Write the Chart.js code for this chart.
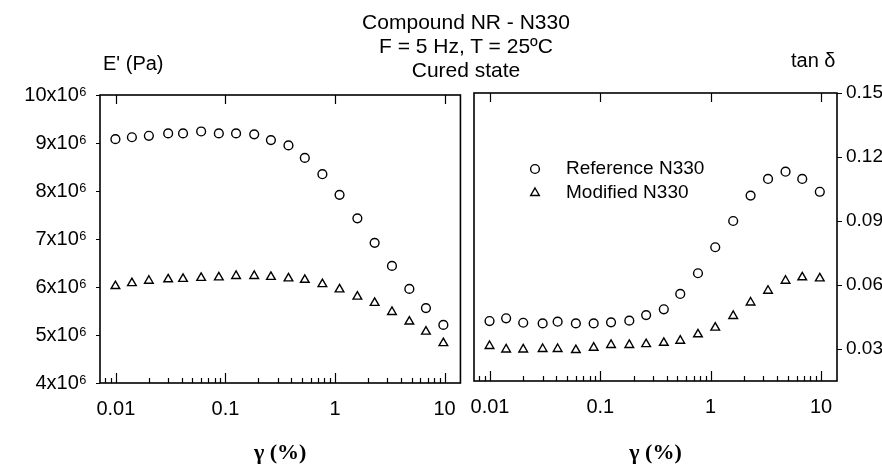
<!DOCTYPE html>
<html lang="en">
<head>
  <meta charset="UTF-8" />
  <title>Compound NR - N330</title>
  <script src="https://cdn.jsdelivr.net/npm/chart.js"></script>
  <style>
    * {
      margin: 0;
      padding: 0;
      box-sizing: border-box;
    }

    body {
      width: 882px;
      height: 467px;
      background-color: #fff;
      color: #000;
      font-family: 'Liberation Sans', Arial, sans-serif;
      position: relative;
      overflow: hidden;
    }

    .panel {
      position: absolute;
      top: 0;
      height: 467px;
    }

    #leftPanel { left: 0; width: 470px; }
    #rightPanel { left: 430px; width: 452px; }

    .txt {
      position: absolute;
      font-size: 20px;
      line-height: 24px;
      white-space: nowrap;
    }

    #title {
      left: 0;
      width: 932px;
      top: 10px;
      text-align: center;
      font-size: 21px;
    }

    #yLeftLabel { left: 103px; top: 51px; }
    #yRightLabel { left: 791px; top: 48px; }
  </style>
</head>
<body>

  <div class="panel" id="leftPanel"><canvas id="modulusChart" width="470" height="467"></canvas></div>
  <div class="panel" id="rightPanel"><canvas id="tanChart" width="452" height="467"></canvas></div>

  <div class="txt" id="title">Compound NR - N330<br>F = 5 Hz, T = 25ºC<br>Cured state</div>
  <div class="txt" id="yLeftLabel">E' (Pa)</div>
  <div class="txt" id="yRightLabel">tan δ</div>

  <script>
    // strain amplitude (%)
    const strain = [0.0099, 0.014, 0.020, 0.030, 0.041, 0.060, 0.087, 0.125, 0.183, 0.26,
                    0.376, 0.53, 0.767, 1.10, 1.60, 2.30, 3.31, 4.77, 6.76, 9.75];

    // storage modulus E' (Pa)
    const modulusReference = [9.08e6, 9.12e6, 9.15e6, 9.20e6, 9.20e6, 9.24e6, 9.20e6, 9.20e6, 9.18e6, 9.06e6,
                              8.95e6, 8.69e6, 8.35e6, 7.92e6, 7.43e6, 6.92e6, 6.44e6, 5.96e6, 5.56e6, 5.21e6];
    const modulusModified  = [6.02e6, 6.08e6, 6.13e6, 6.16e6, 6.17e6, 6.19e6, 6.20e6, 6.23e6, 6.23e6, 6.21e6,
                              6.18e6, 6.15e6, 6.06e6, 5.95e6, 5.80e6, 5.67e6, 5.48e6, 5.28e6, 5.07e6, 4.83e6];

    // loss factor tan delta
    const tanReference = [0.0431, 0.0444, 0.0423, 0.0420, 0.0428, 0.0420, 0.0420, 0.0425, 0.0433, 0.0459,
                          0.0486, 0.0558, 0.0655, 0.0777, 0.0900, 0.1019, 0.1097, 0.1131, 0.1097, 0.1037];
    const tanModified  = [0.0314, 0.0298, 0.0298, 0.0300, 0.0300, 0.0295, 0.0306, 0.0319, 0.0319, 0.0323,
                          0.0329, 0.0339, 0.0369, 0.0400, 0.0455, 0.0518, 0.0573, 0.0620, 0.0636, 0.0631];

    const seriesNames = ['Reference N330', 'Modified N330'];

    const strainTicks = [0.01, 0.1, 1, 10];
    const strainTickLabels = ['0.01', '0.1', '1', '10'];
    const modulusTicks = [4e6, 5e6, 6e6, 7e6, 8e6, 9e6, 10e6];
    const tanTicks = [0.03, 0.06, 0.09, 0.12, 0.15];
    const tanTickLabels = ['0.03', '0.06', '0.09', '0.12', '0.15'];

    const strainMin = 0.00716, strainMax = 13.96;

    // minor log ticks 2..9 of each decade
    const minorStrainTicks = [];
    [0.001, 0.01, 0.1, 1].forEach(d => {
      for (let m = 2; m <= 9; m++) minorStrainTicks.push(m * d);
    });

    const pts = (xs, ys) => xs.map((x, i) => ({ x: x, y: ys[i] }));

    // box, tick marks drawn from the chart scales
    const frame = {
      id: 'frame',
      afterDraw(chart, args, opts) {
        const { ctx, chartArea: a, scales } = chart;
        const sx = scales.x, sy = scales.y;
        ctx.save();
        ctx.strokeStyle = '#000';
        ctx.lineWidth = 1.2;
        ctx.beginPath();
        minorStrainTicks.forEach(v => {
          if (v < strainMin || v > strainMax) return;
          const px = Math.round(sx.getPixelForValue(v)) + 0.5;
          ctx.moveTo(px, a.bottom);
          ctx.lineTo(px, a.bottom - 5);
        });
        sx.ticks.forEach(t => {
          const px = Math.round(sx.getPixelForValue(t.value)) + 0.5;
          ctx.moveTo(px, a.bottom);
          ctx.lineTo(px, a.bottom - 10);
          ctx.moveTo(px, a.top);
          ctx.lineTo(px, a.top + 9);
        });
        sy.ticks.forEach(t => {
          const py = Math.round(sy.getPixelForValue(t.value)) + 0.5;
          if (opts.side === 'left') {
            ctx.moveTo(a.left, py);
            ctx.lineTo(a.left - 4, py);
          } else {
            ctx.moveTo(a.right, py);
            ctx.lineTo(a.right + 5, py);
          }
        });
        ctx.stroke();
        ctx.lineWidth = 1.6;
        ctx.strokeRect(a.left, a.top, a.right - a.left, a.bottom - a.top);
        ctx.restore();
      }
    };

    // legend drawn inside the plot area
    const innerLegend = {
      id: 'innerLegend',
      afterDatasetsDraw(chart, args, opts) {
        if (!opts.show) return;
        const ctx = chart.ctx;
        ctx.save();
        chart.data.datasets.forEach((ds, i) => {
          const y = opts.y + i * opts.gap;
          ctx.strokeStyle = '#000';
          ctx.fillStyle = '#fff';
          ctx.lineWidth = ds.pointBorderWidth;
          Chart.helpers.drawPoint(ctx, {
            pointStyle: ds.pointStyle,
            radius: ds.pointRadius,
            borderWidth: ds.pointBorderWidth,
            rotation: 0
          }, opts.x, y);
          ctx.fillStyle = '#000';
          ctx.font = '19px "Liberation Sans", Arial, sans-serif';
          ctx.textBaseline = 'middle';
          ctx.textAlign = 'left';
          ctx.fillText(ds.label, opts.x + 31, y);
        });
        ctx.restore();
      }
    };

    function makeDatasets(refValues, modValues) {
      return [
        {
          label: seriesNames[0],
          data: pts(strain, refValues),
          showLine: false,
          pointStyle: 'circle',
          pointRadius: 4.4,
          pointBorderWidth: 1.4,
          pointBorderColor: '#000',
          pointBackgroundColor: '#fff'
        },
        {
          label: seriesNames[1],
          data: pts(strain, modValues),
          showLine: false,
          pointStyle: 'triangle',
          pointRadius: 5,
          pointBorderWidth: 1.4,
          pointBorderColor: '#000',
          pointBackgroundColor: '#fff'
        }
      ];
    }

    function strainAxis(height) {
      return {
        type: 'logarithmic',
        min: strainMin,
        max: strainMax,
        grid: { display: false, drawTicks: false },
        border: { display: false },
        afterBuildTicks: s => { s.ticks = strainTicks.map(v => ({ value: v, major: true })); },
        afterFit: s => { s.height = height; },
        ticks: {
          autoSkip: false,
          maxRotation: 0,
          padding: 14,
          color: '#000',
          font: { family: "'Liberation Sans', Arial, sans-serif", size: 20 },
          callback: (v, i) => strainTickLabels[i]
        },
        title: {
          display: true,
          text: 'γ (%)',
          color: '#000',
          padding: { top: 0, bottom: 0 },
          font: { family: "'Liberation Serif', 'Times New Roman', serif", size: 22, weight: 'bold' }
        }
      };
    }

    const baseOptions = {
      responsive: false,
      animation: false,
      events: [],
      plugins: {
        legend: { display: false },
        tooltip: { enabled: false }
      }
    };

    new Chart(document.getElementById('modulusChart').getContext('2d'), {
      type: 'scatter',
      data: { datasets: makeDatasets(modulusReference, modulusModified) },
      options: {
        ...baseOptions,
        layout: { padding: { left: 0, right: 7, top: 95, bottom: 0 } },
        plugins: { ...baseOptions.plugins, frame: { side: 'left' }, innerLegend: { show: false } },
        scales: {
          x: strainAxis(84),
          y: {
            type: 'linear',
            min: 4e6,
            max: 10e6,
            grid: { display: false, drawTicks: false },
            border: { display: false },
            afterBuildTicks: s => { s.ticks = modulusTicks.map(v => ({ value: v })); },
            afterFit: s => { s.width = 100; },
            ticks: {
              padding: 13,
              color: '#000',
              font: { family: "'Liberation Sans', Arial, sans-serif", size: 20 },
              callback: v => (v / 1e6) + 'x10⁶'
            }
          }
        }
      },
      plugins: [frame, innerLegend]
    });

    new Chart(document.getElementById('tanChart').getContext('2d'), {
      type: 'scatter',
      data: { datasets: makeDatasets(tanReference, tanModified) },
      options: {
        ...baseOptions,
        layout: { padding: { left: 44, right: 0, top: 93, bottom: 0 } },
        plugins: { ...baseOptions.plugins, frame: { side: 'right' }, innerLegend: { show: true, x: 105, y: 169, gap: 24 } },
        scales: {
          x: strainAxis(86),
          y: {
            type: 'linear',
            position: 'right',
            min: 0.015,
            max: 0.15,
            grid: { display: false, drawTicks: false },
            border: { display: false },
            afterBuildTicks: s => { s.ticks = tanTicks.map(v => ({ value: v })); },
            afterFit: s => { s.width = 45; },
            ticks: {
              padding: 9,
              color: '#000',
              font: { family: "'Liberation Sans', Arial, sans-serif", size: 19 },
              callback: (v, i) => tanTickLabels[i]
            }
          }
        }
      },
      plugins: [frame, innerLegend]
    });
  </script>
</body>
</html>
